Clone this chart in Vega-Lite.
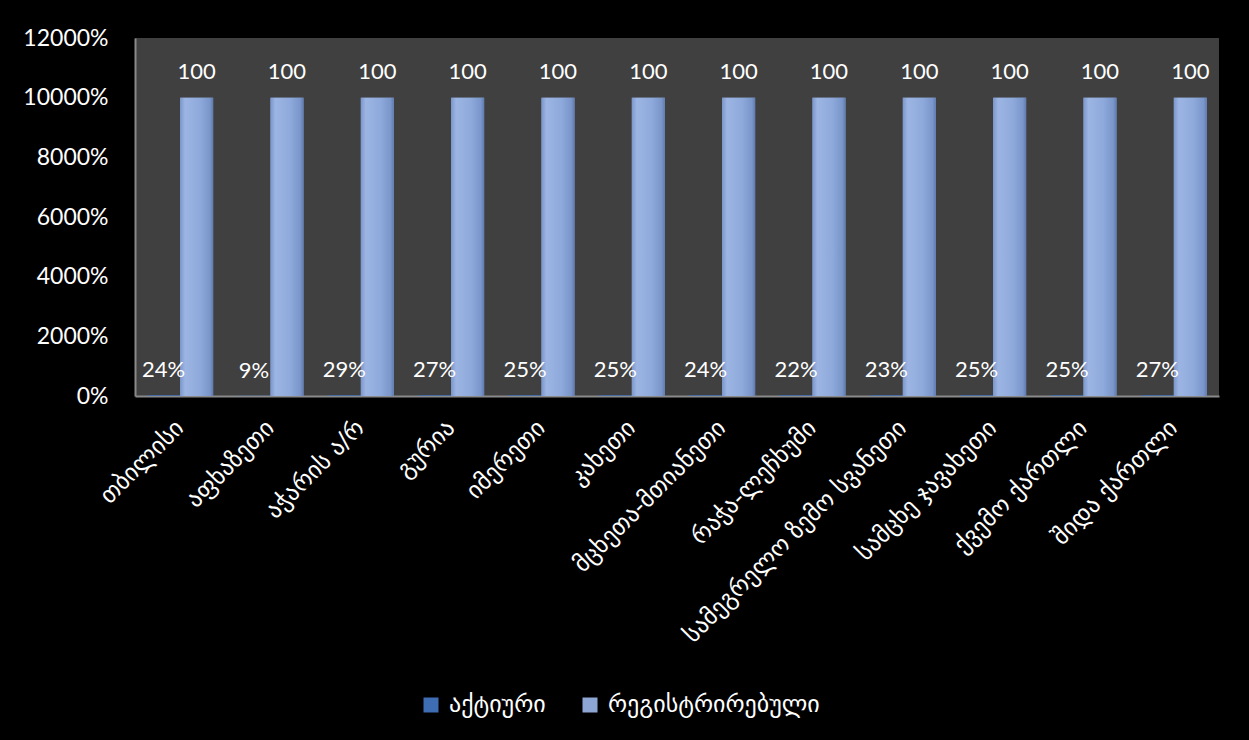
{
  "$schema": "https://vega.github.io/schema/vega-lite/v6.json",
  "width": 1084,
  "height": 358,
  "autosize": {"type": "none"},
  "padding": {"left": 135, "top": 38, "right": 30, "bottom": 344},
  "background": "#000000",
  "config": {
    "view": {"stroke": null, "fill": "#404040"},
    "text": {"font": "Lato"}
  },
  "data": {
    "values": [
      {"region": "თბილისი", "series": "აქტიური", "value": 0.24},
      {"region": "აფხაზეთი", "series": "აქტიური", "value": 0.09},
      {"region": "აჭარის ა/რ", "series": "აქტიური", "value": 0.29},
      {"region": "გურია", "series": "აქტიური", "value": 0.27},
      {"region": "იმერეთი", "series": "აქტიური", "value": 0.25},
      {"region": "კახეთი", "series": "აქტიური", "value": 0.25},
      {"region": "მცხეთა-მთიანეთი", "series": "აქტიური", "value": 0.24},
      {"region": "რაჭა-ლეჩხუმი", "series": "აქტიური", "value": 0.22},
      {"region": "სამეგრელო ზემო სვანეთი", "series": "აქტიური", "value": 0.23},
      {"region": "სამცხე ჯავახეთი", "series": "აქტიური", "value": 0.25},
      {"region": "ქვემო ქართლი", "series": "აქტიური", "value": 0.25},
      {"region": "შიდა ქართლი", "series": "აქტიური", "value": 0.27},
      {"region": "თბილისი", "series": "რეგისტრირებული", "value": 100},
      {"region": "აფხაზეთი", "series": "რეგისტრირებული", "value": 100},
      {"region": "აჭარის ა/რ", "series": "რეგისტრირებული", "value": 100},
      {"region": "გურია", "series": "რეგისტრირებული", "value": 100},
      {"region": "იმერეთი", "series": "რეგისტრირებული", "value": 100},
      {"region": "კახეთი", "series": "რეგისტრირებული", "value": 100},
      {"region": "მცხეთა-მთიანეთი", "series": "რეგისტრირებული", "value": 100},
      {"region": "რაჭა-ლეჩხუმი", "series": "რეგისტრირებული", "value": 100},
      {"region": "სამეგრელო ზემო სვანეთი", "series": "რეგისტრირებული", "value": 100},
      {"region": "სამცხე ჯავახეთი", "series": "რეგისტრირებული", "value": 100},
      {"region": "ქვემო ქართლი", "series": "რეგისტრირებული", "value": 100},
      {"region": "შიდა ქართლი", "series": "რეგისტრირებული", "value": 100}
    ]
  },
  "encoding": {
    "x": {
      "field": "region",
      "type": "nominal",
      "sort": null,
      "scale": {"paddingInner": 0.27, "paddingOuter": 0.135},
      "axis": {
        "title": null,
        "labelAngle": -45,
        "labelAlign": "right",
        "labelBaseline": "middle",
        "labelFont": "DejaVu Sans",
        "labelFontSize": 24,
        "labelColor": "#ffffff",
        "labelPadding": 28,
        "ticks": false,
        "tickSize": 0,
        "domainColor": "#8a8a8a",
        "domainWidth": 2,
        "labelLimit": 500
      }
    },
    "xOffset": {
      "field": "series",
      "type": "nominal",
      "sort": ["აქტიური", "რეგისტრირებული"],
      "scale": {"paddingInner": 0, "paddingOuter": 0}
    },
    "y": {
      "field": "value",
      "type": "quantitative",
      "scale": {"domain": [0, 120], "nice": false},
      "axis": {
        "title": null,
        "values": [0, 20, 40, 60, 80, 100, 120],
        "format": ".0%",
        "grid": false,
        "ticks": false,
        "tickSize": 0,
        "labelPadding": 27,
        "labelFont": "Lato",
        "labelFontSize": 23,
        "labelColor": "#ffffff",
        "domainColor": "#8a8a8a",
        "domainWidth": 2
      }
    }
  },
  "layer": [
    {
      "mark": {"type": "bar"},
      "encoding": {
        "color": {
          "field": "series",
          "type": "nominal",
          "sort": ["აქტიური", "რეგისტრირებული"],
          "scale": {"domain": ["აქტიური", "რეგისტრირებული"], "range": ["#3e6db4", "#8ea6d4"]},
          "legend": {
            "title": null,
            "orient": "none",
            "direction": "horizontal",
            "legendX": 284,
            "legendY": 655,
            "symbolType": "square",
            "symbolSize": 225,
            "symbolStrokeWidth": 0,
            "labelFont": "DejaVu Sans",
            "labelFontSize": 24,
            "labelColor": "#ffffff",
            "labelOffset": 6,
            "columnPadding": 32,
            "labelLimit": 500
          }
        }
      }
    },
    {
      "transform": [{"filter": "datum.series === 'რეგისტრირებული'"}],
      "mark": {
        "type": "bar",
        "fill": {
          "gradient": "linear",
          "x1": 0, "y1": 0, "x2": 1, "y2": 0,
          "stops": [
            {"offset": 0, "color": "#7b97cc"},
            {"offset": 0.15, "color": "#9cb5e3"},
            {"offset": 0.6, "color": "#8ea9db"},
            {"offset": 0.9, "color": "#7a96ca"},
            {"offset": 1, "color": "#5f7bb0"}
          ]
        }
      }
    },
    {
      "transform": [{"filter": "datum.series === 'რეგისტრირებული'"}],
      "mark": {"type": "text", "baseline": "bottom", "dy": -14, "fontSize": 22, "color": "#ffffff", "font": "Lato"},
      "encoding": {"text": {"field": "value", "type": "quantitative", "format": "d"}}
    },
    {
      "transform": [{"filter": "datum.series === 'აქტიური'"}],
      "mark": {"type": "text", "baseline": "alphabetic", "dy": -18, "fontSize": 22, "color": "#ffffff", "font": "Lato"},
      "encoding": {"text": {"field": "value", "type": "quantitative", "format": ".0%"}}
    }
  ]
}
